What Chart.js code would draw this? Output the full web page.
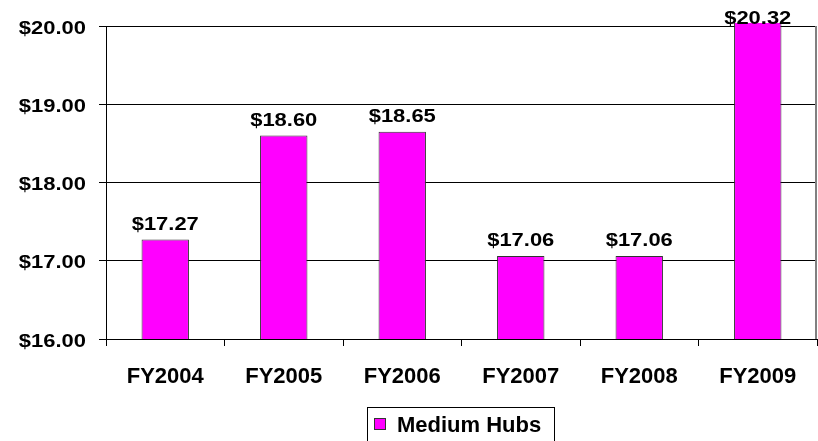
<!DOCTYPE html>
<html>
<head>
<meta charset="utf-8">
<script src="https://cdn.jsdelivr.net/npm/chart.js@4"></script>
<style>
  html, body { margin: 0; padding: 0; background: #fff; }
  #wrap { width: 818px; height: 441px; position: relative; }
</style>
</head>
<body>
<div id="wrap"><canvas id="hubChart"></canvas></div>
<script>
// --- datos ---
const years = ['FY2004', 'FY2005', 'FY2006', 'FY2007', 'FY2008', 'FY2009'];
const hubCosts = [17.27, 18.60, 18.65, 17.06, 17.06, 20.32];
const seriesName = 'Medium Hubs';
const yTicks = [16, 17, 18, 19, 20];

const FONT = "'Liberation Sans', Arial, sans-serif";
const BAR_COLOR = '#FF00FF';
const STRETCH = 1.22; // el texto del original sale ensanchado

const money = v => '$' + Number(v).toFixed(2);

// texto ensanchado horizontalmente
function wideText(ctx, text, x, y, align) {
    ctx.save();
    ctx.translate(x, y);
    ctx.scale(STRETCH, 1);
    ctx.textAlign = align;
    ctx.fillText(text, 0, 0);
    ctx.restore();
}

// etiquetas de ejes, valores y leyenda
const labelsPlugin = {
    id: 'labelsPlugin',
    afterDraw(chart) {
        const { ctx, chartArea, scales } = chart;
        ctx.save();
        ctx.fillStyle = '#000';
        ctx.textBaseline = 'alphabetic';

        // borde derecho gris
        ctx.strokeStyle = '#808080';
        ctx.lineWidth = 2;
        ctx.beginPath();
        ctx.moveTo(chartArea.right - 1, chartArea.top);
        ctx.lineTo(chartArea.right - 1, chartArea.bottom);
        ctx.stroke();

        // eje Y
        ctx.font = `bold 18px ${FONT}`;
        yTicks.forEach(v => {
            wideText(ctx, money(v), 86, scales.y.getPixelForValue(v) + 7.5, 'right');
        });

        // valores sobre las barras
        const meta = chart.getDatasetMeta(0);
        meta.data.forEach((bar, i) => {
            const y = Math.max(bar.y - 10, chartArea.top - 2);
            wideText(ctx, money(hubCosts[i]), bar.x, y, 'center');
        });

        // eje X
        ctx.font = `bold 22px ${FONT}`;
        ctx.textAlign = 'center';
        years.forEach((yr, i) => {
            ctx.fillText(yr, scales.x.getPixelForValue(i), 383);
        });

        // leyenda
        ctx.strokeStyle = '#000';
        ctx.lineWidth = 1;
        ctx.strokeRect(367.5, 407.5, 187, 40);
        ctx.fillStyle = BAR_COLOR;
        ctx.fillRect(374, 418, 11, 11);
        ctx.strokeStyle = '#333';
        ctx.strokeRect(374.5, 418.5, 11, 11);
        ctx.fillStyle = '#000';
        ctx.textAlign = 'left';
        ctx.fillText(seriesName, 397, 432);
        ctx.restore();
    }
};

new Chart(document.getElementById('hubChart').getContext('2d'), {
    type: 'bar',
    data: {
        labels: years,
        datasets: [{
            label: seriesName,
            data: hubCosts,
            backgroundColor: BAR_COLOR,
            borderColor: '#333333',
            borderWidth: 1,
            categoryPercentage: 1.0,
            barPercentage: 0.4,
            clip: { left: 0, top: 3, right: 0, bottom: 0 }
        }]
    },
    options: {
        responsive: true,
        maintainAspectRatio: false,
        animation: false,
        layout: { padding: { left: 99, right: 1, top: 26, bottom: 95 } },
        scales: {
            y: {
                min: yTicks[0],
                max: yTicks[yTicks.length - 1],
                ticks: { display: false, stepSize: 1 },
                grid: { color: '#000', tickLength: 7, lineWidth: 1 },
                border: { color: '#000' }
            },
            x: {
                ticks: { display: false },
                grid: { offset: true, drawOnChartArea: false, color: '#000', tickLength: 7 },
                border: { color: '#000' }
            }
        },
        plugins: {
            legend: { display: false },
            tooltip: { enabled: false }
        }
    },
    plugins: [labelsPlugin]
});
</script>
</body>
</html>
